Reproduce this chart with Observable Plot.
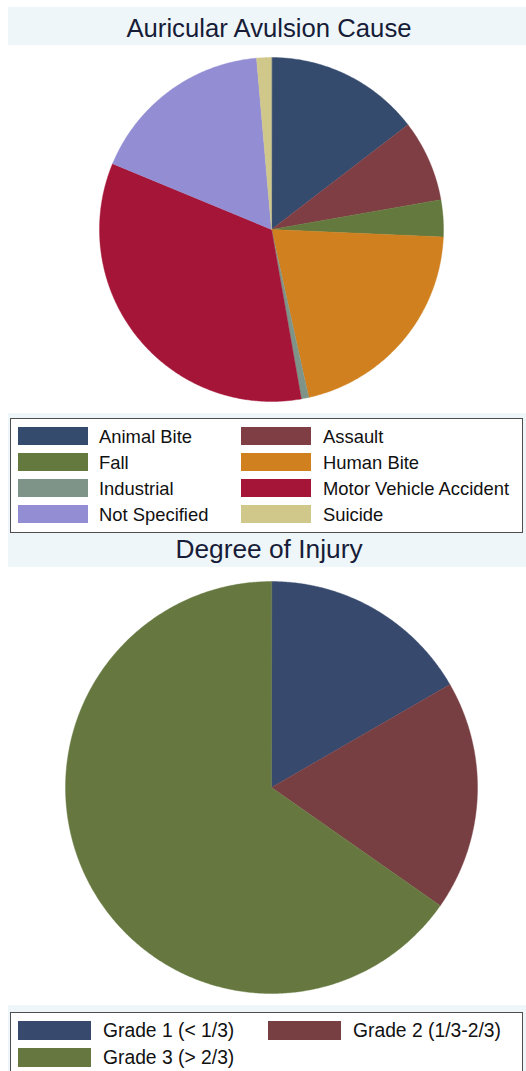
<!DOCTYPE html>
<html><head><meta charset="utf-8">
<script src="https://cdn.jsdelivr.net/npm/d3@7"></script>
<script src="https://cdn.jsdelivr.net/npm/@observablehq/plot@0.6"></script>
<style>
body{margin:0;background:#fff;font-family:"Liberation Sans",Arial,Helvetica,sans-serif;}
#page{position:relative;width:526px;height:1071px;overflow:hidden;background:#fff;}
.band{position:absolute;background:#eff6f9;}
.title{position:absolute;left:0;width:538px;text-align:center;color:#171c38;line-height:1;white-space:nowrap;}
.legend{position:absolute;background:#fff;border:1.5px solid #4d4d4d;box-sizing:border-box;}
.sw{position:absolute;}
.lt{position:absolute;line-height:1;color:#111;white-space:nowrap;}
.chart{position:absolute;left:0;}
</style></head>
<body><div id="page"></div>
<script>
// ---- data ----
const causeLabels = ["Animal Bite","Assault","Fall","Human Bite","Industrial","Motor Vehicle Accident","Not Specified","Suicide"];
const causeCounts = [21,11,5,30,1,49,25,2];
const causeColors = ["#354b6e","#7e3e43","#64793d","#d0801f","#7f9488","#a51537","#938ed3","#cfc88a"];
const gradeLabels = ["Grade 1 (< 1/3)","Grade 2 (1/3-2/3)","Grade 3 (> 2/3)"];
const gradeCounts = [24,26,94];
const gradeColors = ["#374a6d","#783f43","#66783f"];
const titles = ["Auricular Avulsion Cause","Degree of Injury"];

const page = document.getElementById("page");
function el(cls, css, text){
  const d = document.createElement("div");
  d.className = cls; Object.assign(d.style, css);
  if (text != null) d.textContent = text;
  page.appendChild(d); return d;
}

// slices: clockwise from 12 o'clock, on the unit circle
function slices(labels, counts){
  const total = d3.sum(counts);
  let acc = 0; const pts = [];
  labels.forEach((lab,i)=>{
    const a0 = acc/total*2*Math.PI; acc += counts[i]; const a1 = acc/total*2*Math.PI;
    const n = Math.max(2, Math.ceil((a1-a0)/(2*Math.PI)*720));
    pts.push({cat:lab, u:0, v:0});
    for(let k=0;k<=n;k++){const a=a0+(a1-a0)*k/n; pts.push({cat:lab,u:Math.sin(a),v:Math.cos(a)});}
  });
  return pts;
}

function pie(labels, counts, colors, W, H, cx, cy, r){
  return Plot.plot({
    width:W, height:H, margin:0,
    style:{background:"#fff"},
    x:{domain:[-cx/r,(W-cx)/r], axis:null},
    y:{domain:[-(H-cy)/r, cy/r], axis:null},
    color:{domain:labels, range:colors},
    marks:[
      Plot.line(slices(labels,counts),{x:"u",y:"v",z:"cat",fill:"cat",stroke:"cat",strokeWidth:0.4,curve:"linear-closed"})
    ]
  });
}

// ---- bands & titles ----
el("band",{left:"8px",top:"7px",width:"518px",height:"38px"});
el("band",{left:"8px",top:"413px",width:"518px",height:"154px"});
el("band",{left:"8px",top:"1005px",width:"518px",height:"66px"});
el("title",{top:"15.5px",fontSize:"25.7px"},titles[0]);
el("title",{top:"536px",fontSize:"26.3px"},titles[1]);

// ---- pies ----
const p1 = pie(causeLabels,causeCounts,causeColors,526,368,271,184,172);
p1.classList.add("chart"); p1.style.top="45px"; page.appendChild(p1);
const p2 = pie(gradeLabels,gradeCounts,gradeColors,526,438,271,220,206);
p2.classList.add("chart"); p2.style.top="567px"; page.appendChild(p2);

// ---- legends ----
el("legend",{left:"10px",top:"418px",width:"513px",height:"115px"});
causeLabels.forEach((lab,i)=>{
  const row = Math.floor(i/2), col = i%2;
  el("sw",{left:(col?241:18)+"px",top:(427+26*row)+"px",width:"70px",height:"18px",background:causeColors[i]});
  el("lt",{left:(col?323:99)+"px",top:(443+26*row-15.5)+"px",fontSize:"18.4px"},lab);
});
el("legend",{left:"10px",top:"1012px",width:"513px",height:"80px"});
gradeLabels.forEach((lab,i)=>{
  const row = Math.floor(i/2), col = i%2;
  el("sw",{left:(col?268:18)+"px",top:(1021+27*row)+"px",width:"73px",height:"18.5px",background:gradeColors[i]});
  el("lt",{left:(col?353:103)+"px",top:(1037+27*row-16.3)+"px",fontSize:"19.3px"},lab);
});
</script>
</body></html>
